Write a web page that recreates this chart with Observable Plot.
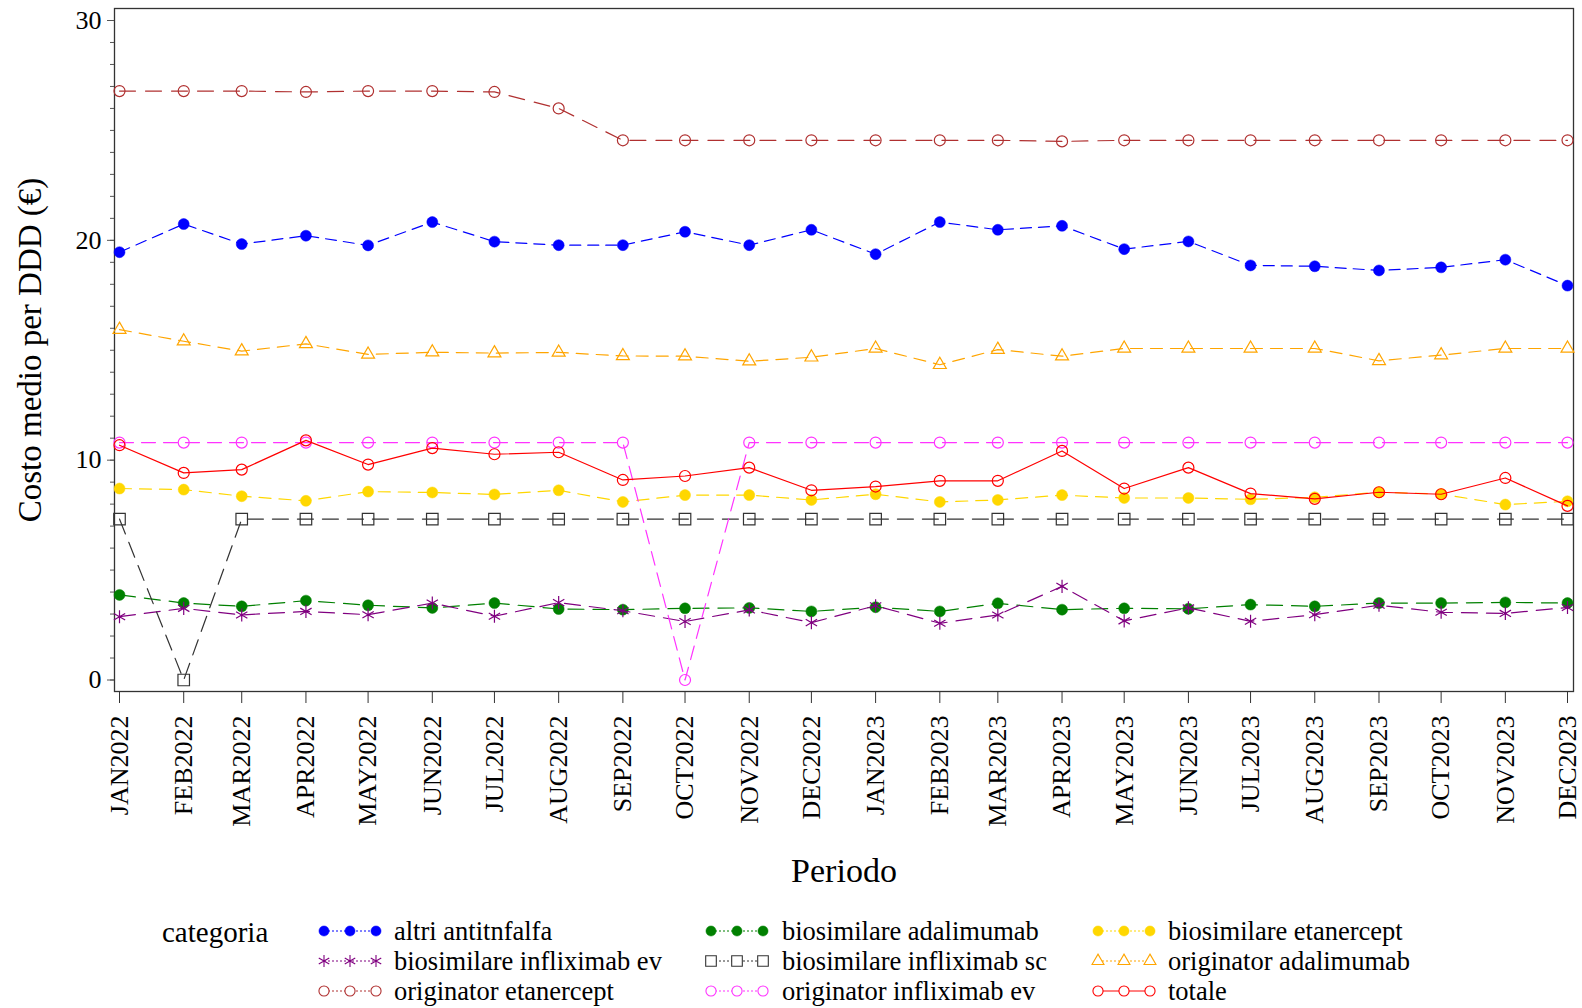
<!DOCTYPE html>
<html><head><meta charset="utf-8">
<script src="https://cdn.jsdelivr.net/npm/d3@7"></script>
<script src="https://cdn.jsdelivr.net/npm/@observablehq/plot@0.6"></script>
<style>
body{margin:0;background:#fff;font-family:"Liberation Serif","Times New Roman",serif;}
#chart svg, #legend svg{display:block;}
</style>
</head><body><div id="chart"></div><div id="legend"></div>
<script>
const months = ["JAN2022","FEB2022","MAR2022","APR2022","MAY2022","JUN2022","JUL2022","AUG2022","SEP2022","OCT2022","NOV2022","DEC2022",
                "JAN2023","FEB2023","MAR2023","APR2023","MAY2023","JUN2023","JUL2023","AUG2023","SEP2023","OCT2023","NOV2023","DEC2023"];

const categories = ["altri antitnfalfa","biosimilare adalimumab","biosimilare etanercept","biosimilare infliximab ev",
  "biosimilare infliximab sc","originator adalimumab","originator etanercept","originator infliximab ev","totale"];

const altriAntitnfalfa = [19.46,20.74,19.83,20.21,19.77,20.83,19.94,19.78,19.78,20.39,19.78,20.48,19.37,20.83,20.48,20.66,19.60,19.95,18.86,18.82,18.63,18.77,19.12,17.94];
const biosimilareAdalimumab = [3.87,3.50,3.35,3.61,3.40,3.28,3.50,3.23,3.20,3.26,3.28,3.12,3.31,3.12,3.49,3.20,3.26,3.24,3.43,3.35,3.50,3.50,3.53,3.50];
const biosimilareEtanercept = [8.71,8.66,8.36,8.15,8.57,8.53,8.44,8.63,8.10,8.41,8.41,8.19,8.45,8.10,8.19,8.41,8.28,8.28,8.22,8.31,8.54,8.46,7.98,8.13];
const biosimilareInfliximabEv = [2.88,3.26,2.96,3.12,2.97,3.50,2.90,3.52,3.15,2.66,3.19,2.61,3.38,2.58,2.96,4.26,2.69,3.28,2.67,2.97,3.40,3.08,3.03,3.30];
const biosimilareInfliximabSc = [7.32,0,7.32,7.32,7.32,7.32,7.32,7.32,7.32,7.32,7.32,7.32,7.32,7.32,7.32,7.32,7.32,7.32,7.32,7.32,7.32,7.32,7.32,7.32];
const originatorAdalimumab = [15.94,15.41,14.96,15.29,14.81,14.91,14.87,14.90,14.74,14.73,14.50,14.68,15.08,14.34,15.03,14.73,15.08,15.08,15.08,15.08,14.52,14.78,15.08,15.08];
const originatorEtanercept = [26.79,26.79,26.79,26.75,26.79,26.79,26.75,26.00,24.55,24.55,24.55,24.55,24.55,24.55,24.55,24.50,24.55,24.55,24.55,24.55,24.55,24.55,24.55,24.55];
const originatorInfliximabEv = [10.8,10.8,10.8,10.8,10.8,10.8,10.8,10.8,10.8,0,10.8,10.8,10.8,10.8,10.8,10.8,10.8,10.8,10.8,10.8,10.8,10.8,10.8,10.8];
const totale = [10.68,9.42,9.57,10.90,9.80,10.55,10.27,10.36,9.10,9.28,9.66,8.63,8.80,9.06,9.06,10.42,8.71,9.66,8.48,8.24,8.54,8.45,9.19,7.92];

const seriesValues = [altriAntitnfalfa, biosimilareAdalimumab, biosimilareEtanercept, biosimilareInfliximabEv,
  biosimilareInfliximabSc, originatorAdalimumab, originatorEtanercept, originatorInfliximabEv, totale];

const yLabel = "Costo medio per DDD (€)";
const xLabel = "Periodo";
const legendTitle = "categoria";

// styles
const styles = {
  "altri antitnfalfa":        {color:"#0000FF", symbol:"circle",   filled:true,  r:5.5, dash:"11,7"},
  "biosimilare adalimumab":   {color:"#008000", symbol:"circle",   filled:true,  r:5.5, dash:"16,9"},
  "biosimilare etanercept":   {color:"#FFD700", symbol:"circle",   filled:true,  r:5.5, dash:"12,8"},
  "biosimilare infliximab ev":{color:"#800080", symbol:"asterisk", filled:false, r:6.2, dash:"16,9"},
  "biosimilare infliximab sc":{color:"#333333", symbol:"square",   filled:false, r:6.5, dash:"16,9"},
  "originator adalimumab":    {color:"#FFA500", symbol:"triangle", filled:false, r:4.8, dash:"12,8"},
  "originator etanercept":    {color:"#B03030", symbol:"circle",   filled:false, r:5.5, dash:"16,10"},
  "originator infliximab ev": {color:"#FF33FF", symbol:"circle",   filled:false, r:5.5, dash:"14,8"},
  "totale":                   {color:"#FF0000", symbol:"circle",   filled:false, r:5.5, dash:null}
};

const monthIndex = {JAN:0,FEB:1,MAR:2,APR:3,MAY:4,JUN:5,JUL:6,AUG:7,SEP:8,OCT:9,NOV:10,DEC:11};
const toDate = s => new Date(Date.UTC(+s.slice(3), monthIndex[s.slice(0,3)], 1));
const dates = months.map(toDate);

const rows = [];
categories.forEach((c, ci) => {
  seriesValues[ci].forEach((v, i) => rows.push({categoria: c, date: dates[i], value: v}));
});

const FONT = "Liberation Serif, Times New Roman, serif";
const fmt = d => d3.utcFormat("%b%Y")(d).toUpperCase();

const marks = [];
categories.forEach(c => {
  const s = styles[c];
  const data = rows.filter(r => r.categoria === c);
  marks.push(Plot.line(data, {x:"date", y:"value", stroke:s.color, strokeWidth:1.2, strokeDasharray: s.dash || undefined}));
  marks.push(Plot.dot(data, {x:"date", y:"value", symbol:s.symbol, r:s.r,
    fill: s.filled ? s.color : "none", stroke: s.color, strokeWidth: s.filled ? 0.5 : 1.2}));
});

const H = 895;
const chart = Plot.plot({
  width: 1582, height: H,
  marginLeft: 114, marginRight: 9, marginTop: 8, marginBottom: H - 691,
  style: {fontFamily: FONT, fontSize: "26px", background: "white", color: "black"},
  x: {type: "utc", domain: [dates[0], dates[dates.length-1]], range: [119, 1567]},
  y: {domain: [0, 30], range: [679.5, 20]},
  marks: [
    Plot.frame({stroke: "#333", strokeWidth: 1.3}),
    Plot.axisY({ticks: d3.range(0, 31, 1), tickSize: 4, tickFormat: () => "", label: null, stroke: "#555"}),
    Plot.axisY({ticks: [0,10,20,30], tickSize: 7, tickPadding: 6, fontSize: 26, label: null, stroke: "#555", fill: "black"}),
    Plot.axisX({ticks: dates, tickFormat: fmt, tickRotate: -90, tickSize: 12, tickPadding: 12, fontSize: 26, label: null, stroke: "#333", fill: "black"}),
    Plot.text([xLabel], {text: d => d, frameAnchor: "bottom", dy: 180, lineAnchor: "middle", textAnchor: "middle", fontSize: 34, fill: "black"}),
    Plot.text([yLabel], {text: d => d, frameAnchor: "left", dx: -84, rotate: -90, textAnchor: "middle", lineAnchor: "middle", fontSize: 33, fill: "black"}),
    ...marks
  ]
});
document.getElementById("chart").appendChild(chart);

// legend
const LH = 1008 - H;
const svg = d3.select("#legend").append("svg").attr("width", 1582).attr("height", LH)
  .style("font-family", FONT);
svg.append("text").attr("x", 162).attr("y", 47).attr("font-size", 29).text(legendTitle);
const colX = [[324, 394], [711, 782], [1098, 1168]];
const rowY = [36, 66, 96];
const symMap = {circle: d3.symbolCircle, asterisk: d3.symbolAsterisk, square: d3.symbolSquare, triangle: d3.symbolTriangle};
categories.forEach((c, i) => {
  const s = styles[c];
  const [mx, tx] = colX[i % 3];
  const y = rowY[Math.floor(i / 3)];
  const g = svg.append("g");
  g.append("line").attr("x1", mx).attr("x2", mx + 52).attr("y1", y).attr("y2", y)
    .attr("stroke", s.color).attr("stroke-width", 1)
    .attr("stroke-dasharray", s.dash ? "2,2" : null);
  [0, 26, 52].forEach(dx => {
    g.append("path")
      .attr("d", d3.symbol().type(symMap[s.symbol]).size(Math.PI * s.r * s.r * 0.85)())
      .attr("transform", `translate(${mx + dx},${y})`)
      .attr("fill", s.filled ? s.color : "white")
      .attr("stroke", s.color).attr("stroke-width", s.filled ? 0.5 : 1.1);
  });
  g.append("text").attr("x", tx).attr("y", y + 9).attr("font-size", 26.5).text(c);
});
</script>
</body></html>
